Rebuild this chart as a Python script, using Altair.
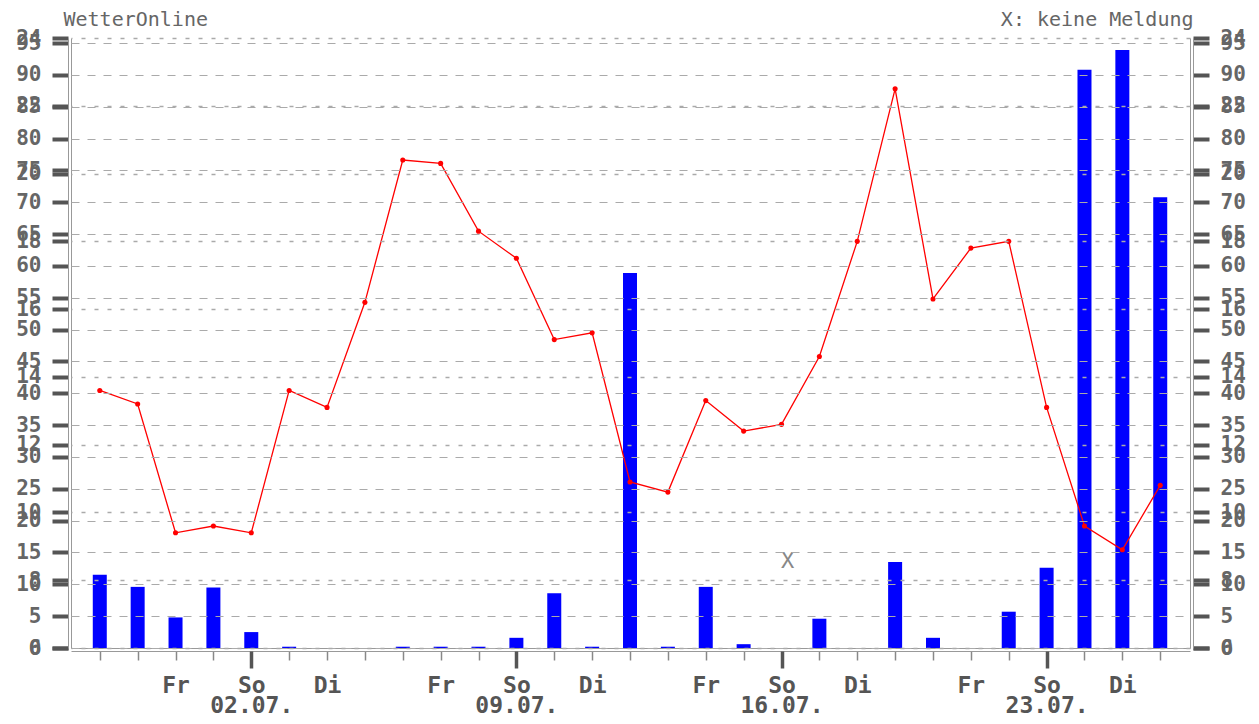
import json
import altair as alt
import pandas as pd

# ---- data (28.06. - 26.07.) ----
days = list(range(29))
temperature = [13.6, 13.2, 9.4, 9.6, 9.4, 13.6, 13.1, 16.2, 20.4, 20.3,
               18.3, 17.5, 15.1, 15.3, 10.9, 10.6, 13.3, 12.4, 12.6, 14.6,
               18.0, 22.5, 16.3, 17.8, 18.0, 13.1, 9.6, 8.9, 10.8]
precip = [11.5, 9.6, 4.8, 9.5, 2.5, 0.2, 0, 0, 0.2, 0.2,
          0.2, 1.6, 8.6, 0.2, 58.9, 0.2, 9.6, 0.6, None, 4.6,
          0, 13.5, 1.6, 0, 5.7, 12.6, 90.8, 93.9, 70.8]
weekday_labels = ["", "", "Fr", "", "So", "", "Di", "", "", "Fr", "", "So", "", "Di",
                  "", "", "Fr", "", "So", "", "Di", "", "", "Fr", "", "So", "", "Di", ""]
date_labels = {4: "02.07.", 11: "09.07.", 18: "16.07.", 25: "23.07."}
major_days = [4, 11, 18, 25]
missing_days = [18]
missing_level = [13.7]
pct_ticks = list(range(0, 100, 5))
tmp_ticks = list(range(6, 26, 2))

df = pd.DataFrame({"day": days, "temp": temperature, "precip": precip})
miss = pd.DataFrame({"day": missing_days, "lvl": missing_level, "t": ["X"] * len(missing_days)})

tick_text = []
for i, w in enumerate(weekday_labels):
    tick_text.append([w, date_labels[i]] if i in date_labels else w)
label_expr = json.dumps(tick_text) + "[datum.value]"

FONT = "DejaVu Sans Mono"
LAB = "#666666"
FRAME = "#999999"

xs = alt.Scale(domain=[-0.628, 28.654], nice=False, zero=False)
pct_scale = alt.Scale(domain=[0, 95.8], nice=False, zero=False)
tmp_scale = alt.Scale(domain=[6, 24], nice=False, zero=False)

ylab = dict(labelFont=FONT, labelFontSize=21, labelFontWeight="bold", labelColor=LAB,
            tickColor="#555555", tickWidth=4, tickSize=16, labelPadding=11,
            labelOverlap=False, labelFlush=False, title=None, offset=3)
frame_only = dict(labels=False, ticks=False, grid=False, domain=True, domainColor=FRAME,
                  domainWidth=1, title=None, offset=0)
no_x = dict(labels=False, ticks=False, grid=False, domain=False)

base = alt.Chart(df)

# A: visible precipitation bars, left percent axis, main x axis
bars = base.mark_bar(color="#0000ff", size=14).encode(
    x=alt.X("day:Q", scale=xs, axis=alt.Axis(
        orient="bottom", values=days, labelExpr=label_expr, labelFont=FONT,
        labelFontSize=23, labelFontWeight="bold", labelColor="#555555",
        labelLineHeight=20, labelPadding=14, labelOverlap=False, labelFlush=False,
        tickColor="#888888", tickWidth=1.5, tickSize=9, domainColor=FRAME,
        domainWidth=1, offset=3, grid=False, title=None)),
    y=alt.Y("precip:Q", scale=pct_scale, axis=alt.Axis(
        orient="left", values=pct_ticks, grid=True, gridDash=[8, 8], gridColor="#aaaaaa",
        gridWidth=1.2, zindex=1, domain=True, domainColor=FRAME, domainWidth=1, **ylab)),
)

# B: visible temperature line, right temperature axis, inner bottom frame
line = base.mark_line(color="#ff0000", strokeWidth=1.3,
                      point=alt.OverlayMarkDef(color="#ff0000", filled=True, size=26)).encode(
    x=alt.X("day:Q", scale=xs, axis=alt.Axis(orient="bottom", **frame_only)),
    y=alt.Y("temp:Q", scale=tmp_scale, axis=alt.Axis(
        orient="right", values=tmp_ticks, grid=True, gridDash=[4, 9], gridColor="#aaaaaa",
        gridWidth=1.5, zindex=1, domain=True, domainColor=FRAME, domainWidth=1, **ylab)),
)

# C: right percent labels, major x ticks
c = base.mark_bar(opacity=0, size=14).encode(
    x=alt.X("day:Q", scale=xs, axis=alt.Axis(
        orient="bottom", values=major_days, tickSize=17, tickWidth=3.5, tickColor="#555555",
        labels=False, domain=False, grid=False, title=None, offset=3)),
    y=alt.Y("precip:Q", scale=pct_scale, axis=alt.Axis(
        orient="right", values=pct_ticks, grid=False, domain=False, **ylab)),
)

# D: left temperature labels, top-right note
d = base.mark_line(opacity=0).encode(
    x=alt.X("day:Q", scale=xs, axis=alt.Axis(
        orient="top", title="X: keine Meldung", titleFont=FONT, titleFontSize=20,
        titleFontWeight="normal", titleColor=LAB, titleX=1122, titleY=-13,
        titleAlign="right", titleBaseline="alphabetic", **no_x)),
    y=alt.Y("temp:Q", scale=tmp_scale, axis=alt.Axis(
        orient="left", values=tmp_ticks, grid=False, domain=False, **ylab)),
)

# E: inner left frame, top-left source
e = base.mark_bar(opacity=0, size=14).encode(
    x=alt.X("day:Q", scale=xs, axis=alt.Axis(
        orient="top", title="WetterOnline", titleFont=FONT, titleFontSize=20,
        titleFontWeight="normal", titleColor=LAB, titleX=-8, titleY=-13,
        titleAlign="left", titleBaseline="alphabetic", **no_x)),
    y=alt.Y("precip:Q", scale=pct_scale, axis=alt.Axis(orient="left", **frame_only)),
)

# F: inner right frame
f = base.mark_line(opacity=0).encode(
    x=alt.X("day:Q", scale=xs, axis=None),
    y=alt.Y("temp:Q", scale=tmp_scale, axis=alt.Axis(orient="right", **frame_only)),
)

# G: "no report" marker
g = alt.Chart(miss).mark_text(font=FONT, fontSize=22, color="#888888", dx=6).encode(
    x=alt.X("day:Q", scale=xs, axis=None),
    y=alt.Y("lvl:Q", scale=pct_scale, axis=None),
    text="t:N",
)

chart = alt.layer(bars, line, c, d, e, f, g).resolve_scale(
    y="independent"
).resolve_axis(
    x="independent", y="independent"
).properties(
    width=1119, height=610,
    autosize=alt.AutoSizeParams(type="none"),
    padding={"left": 63, "top": 30, "right": 59, "bottom": 67},
    background="white",
).configure_view(stroke=None)

chart.save("out.html", embed_options={"renderer": "svg", "actions": False})
